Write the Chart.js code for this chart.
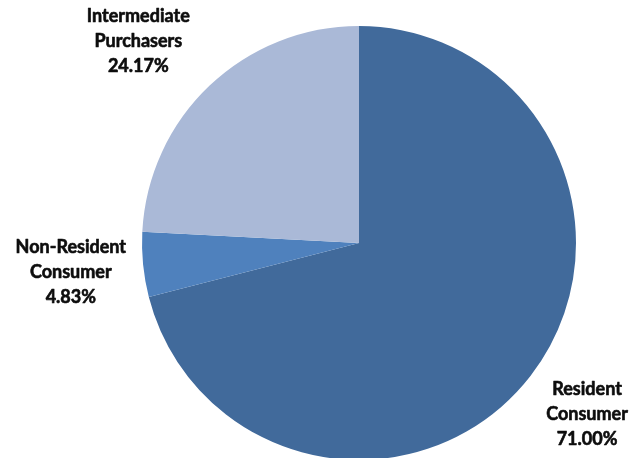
<!DOCTYPE html>
<html>
<head>
<meta charset="utf-8">
<script src="https://cdn.jsdelivr.net/npm/chart.js@4"></script>
<style>
  html, body { margin: 0; padding: 0; background: #fff; overflow: hidden; }
  #wrap { position: relative; width: 640px; height: 470px; }
</style>
</head>
<body>
<div id="wrap"><canvas id="pieChart" width="640" height="470"></canvas></div>
<script>
// Sales split by buyer type
const categories = [['Resident', 'Consumer'], ['Non-Resident', 'Consumer'], ['Intermediate', 'Purchasers']];
const shares = [71.00, 4.83, 24.17];
const sliceColors = ['#416a9b', '#4f81bd', '#aab9d7'];

// label anchor: point at 1.33 x radius on the slice's mid angle, then nudged
const labelNudge = [[0, -6], [-1, 0], [-22, 8]];

const outsideLabels = {
  id: 'outsideLabels',
  afterDatasetsDraw(chart) {
    const ctx = chart.ctx;
    const meta = chart.getDatasetMeta(0);
    ctx.save();
    ctx.fillStyle = '#0d0d0d';
    ctx.strokeStyle = '#0d0d0d';
    ctx.lineWidth = 0.6;
    ctx.lineJoin = 'round';
    ctx.font = 'bold 18px Lato';
    ctx.textAlign = 'center';
    ctx.textBaseline = 'middle';
    meta.data.forEach((arc, i) => {
      const { x, y, startAngle, endAngle, outerRadius } = arc.getProps(['x', 'y', 'startAngle', 'endAngle', 'outerRadius'], true);
      const mid = (startAngle + endAngle) / 2;
      const cx = x + Math.cos(mid) * outerRadius * 1.33 + labelNudge[i][0];
      const cy = y + Math.sin(mid) * outerRadius * 1.33 + labelNudge[i][1];
      const lines = [...categories[i], shares[i].toFixed(2) + '%'];
      lines.forEach((line, j) => {
        ctx.fillText(line, cx, cy + (j - 1) * 25);
        ctx.strokeText(line, cx, cy + (j - 1) * 25);
      });
    });
    ctx.restore();
  },
};

new Chart(document.getElementById('pieChart'), {
  type: 'pie',
  data: {
    labels: categories.map((c) => c.join(' ')),
    datasets: [{
      data: shares,
      backgroundColor: sliceColors,
      borderWidth: 0,
    }],
  },
  options: {
    responsive: false,
    animation: false,
    layout: { padding: { left: 142, right: 64, top: 26, bottom: 10 } },
    plugins: {
      legend: { display: false },
      tooltip: { enabled: false },
    },
  },
  plugins: [outsideLabels],
});
</script>
</body>
</html>
